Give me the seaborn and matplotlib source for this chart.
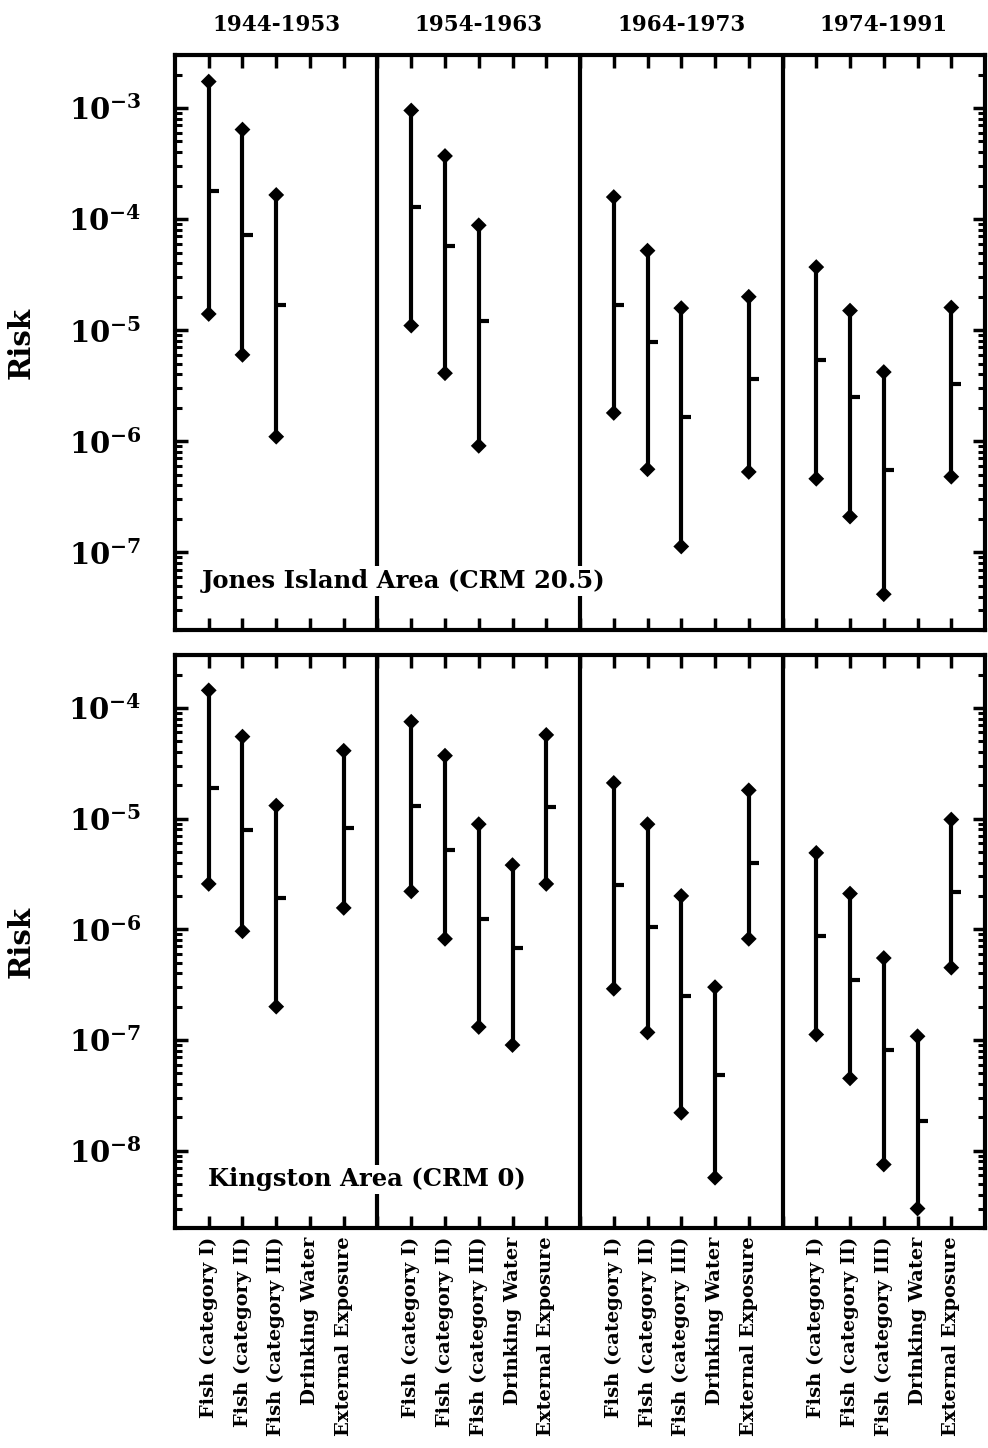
import numpy as np
import pandas as pd
import matplotlib.pyplot as plt
import matplotlib.transforms as mtrans
from matplotlib.ticker import LogLocator, FuncFormatter, NullFormatter
import seaborn as sns

nan = np.nan

periods = ['1944-1953', '1954-1963', '1964-1973', '1974-1991']
pathways = ['Fish (category I)', 'Fish (category II)', 'Fish (category III)',
            'Drinking Water', 'External Exposure']

# Jones Island Area (CRM 20.5) - 5 pathways per period
jones_hi = [1.73e-3, 6.4e-4, 1.65e-4, nan, nan,
            9.5e-4, 3.7e-4, 8.8e-5, nan, nan,
            1.58e-4, 5.2e-5, 1.58e-5, nan, 2.0e-5,
            3.7e-5, 1.5e-5, 4.2e-6, nan, 1.6e-5]
jones_med = [1.8e-4, 7.2e-5, 1.7e-5, nan, nan,
             1.28e-4, 5.7e-5, 1.2e-5, nan, nan,
             1.67e-5, 7.8e-6, 1.67e-6, nan, 3.6e-6,
             5.4e-6, 2.5e-6, 5.5e-7, nan, 3.3e-6]
jones_lo = [1.4e-5, 6.0e-6, 1.1e-6, nan, nan,
            1.1e-5, 4.1e-6, 9.1e-7, nan, nan,
            1.8e-6, 5.6e-7, 1.13e-7, nan, 5.3e-7,
            4.6e-7, 2.1e-7, 4.2e-8, nan, 4.8e-7]

# Kingston Area (CRM 0)
king_hi = [1.44e-4, 5.5e-5, 1.31e-5, nan, 4.1e-5,
           7.5e-5, 3.7e-5, 8.9e-6, 3.8e-6, 5.7e-5,
           2.1e-5, 8.9e-6, 2.0e-6, 3.0e-7, 1.8e-5,
           4.9e-6, 2.1e-6, 5.5e-7, 1.08e-7, 9.8e-6]
king_med = [1.9e-5, 7.9e-6, 1.9e-6, nan, 8.2e-6,
            1.29e-5, 5.2e-6, 1.23e-6, 6.8e-7, 1.26e-5,
            2.5e-6, 1.04e-6, 2.5e-7, 4.8e-8, 4.0e-6,
            8.7e-7, 3.5e-7, 8.1e-8, 1.87e-8, 2.15e-6]
king_lo = [2.57e-6, 9.6e-7, 2.0e-7, nan, 1.56e-6,
           2.2e-6, 8.2e-7, 1.31e-7, 9.0e-8, 2.57e-6,
           2.9e-7, 1.17e-7, 2.2e-8, 5.7e-9, 8.2e-7,
           1.12e-7, 4.5e-8, 7.5e-9, 3.0e-9, 4.5e-7]

sns.set_theme(style='ticks', rc={'text.color': 'black', 'axes.edgecolor': 'black',
                                 'xtick.color': 'black', 'ytick.color': 'black',
                                 'axes.labelcolor': 'black'})
plt.rcParams['font.family'] = ['DejaVu Serif']
plt.rcParams['font.weight'] = 'bold'
plt.rcParams['mathtext.fontset'] = 'dejavuserif'

# positions: 5 per period with a gap slot between periods
pos = [p * 6 + k for p in range(len(periods)) for k in range(len(pathways))]
labels = [pathways[k] for p in range(len(periods)) for k in range(len(pathways))]


def make_df(lo, med, hi):
    df = pd.DataFrame({'pos': pos, 'pathway': labels, 'lo': lo, 'med': med, 'hi': hi})
    return df.dropna()


fig = plt.figure(figsize=(9.88, 14.48), dpi=100)
ax1 = fig.add_axes([0.1771, 0.5649, 0.8199, 0.3971])
ax2 = fig.add_axes([0.1771, 0.1519, 0.8199, 0.3957])

panels = [(ax1, make_df(jones_lo, jones_med, jones_hi), (2e-8, 3e-3), 'Jones Island Area (CRM 20.5)', 0.033),
          (ax2, make_df(king_lo, king_med, king_hi), (2e-9, 3e-4), 'Kingston Area (CRM 0)', 0.041)]

for ax, df, ylim, name, tx in panels:
    ax.set_yscale('log')
    ax.vlines(df['pos'], df['lo'], df['hi'], color='black', lw=3, zorder=3)
    ax.hlines(df['med'], df['pos'], df['pos'] + 0.3, color='black', lw=3, zorder=3)
    sns.scatterplot(data=df, x='pos', y='lo', marker='D', s=65, color='black',
                    edgecolor='none', ax=ax, zorder=4)
    sns.scatterplot(data=df, x='pos', y='hi', marker='D', s=65, color='black',
                    edgecolor='none', ax=ax, zorder=4)
    for d in [5, 11, 17]:
        ax.axvline(d, color='black', lw=3, zorder=1)
    ax.set_xlim(-1, 23)
    ax.set_ylim(*ylim)
    ax.set_xlabel('')
    ax.set_ylabel('Risk', fontsize=21, fontweight='bold')
    ax.yaxis.set_label_coords(-0.172, 0.5)

    ax.yaxis.set_major_locator(LogLocator(base=10, numticks=20))
    ax.yaxis.set_minor_locator(LogLocator(base=10, subs=np.arange(2, 10), numticks=20))
    ax.yaxis.set_major_formatter(FuncFormatter(lambda v, p: r'$\mathbf{10^{%d}}$' % round(np.log10(v))))
    ax.yaxis.set_minor_formatter(NullFormatter())
    ax.tick_params(axis='y', which='major', direction='in', length=9, width=2.5,
                   left=True, right=True, labelsize=21, pad=24)
    ax.tick_params(axis='y', which='minor', direction='in', length=5, width=2.2,
                   left=True, right=True)
    ax.set_xticks(range(23))
    ax.tick_params(axis='x', which='major', direction='in', length=9, width=2.5,
                   top=True, bottom=True)
    ax.tick_params(axis='x', which='minor', bottom=False, top=False)
    for s in ax.spines.values():
        s.set_linewidth(3)
        s.set_visible(True)

    ax.text(tx, 0.085, name, transform=ax.transAxes, fontsize=17.5, fontweight='bold',
            ha='left', va='center', zorder=6,
            bbox=dict(facecolor='white', edgecolor='none', pad=2))

ax1.set_xticklabels([])
tick_text = []
for i in range(23):
    tick_text.append(labels[pos.index(i)] if i in pos else '')
ax2.set_xticklabels(tick_text, rotation=90, fontsize=14, fontweight='bold')
ax2.tick_params(axis='x', pad=6)

trans = mtrans.blended_transform_factory(ax1.transData, ax1.transAxes)
for p, name in enumerate(periods):
    ax1.text(p * 6 + 2, 1.052, name, transform=trans, ha='center', va='center',
             fontsize=15.5, fontweight='bold')

fig.savefig('out.png', dpi=100)
